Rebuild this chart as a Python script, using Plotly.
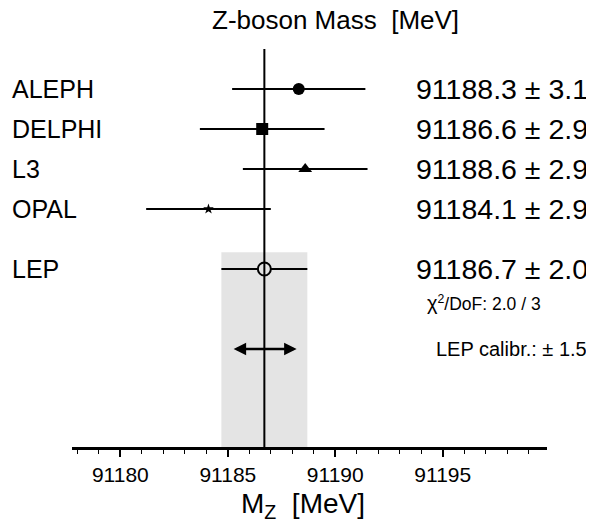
import plotly.graph_objects as go

# ---- data ----
experiments = ["ALEPH", "DELPHI", "L3", "OPAL"]
mz_values = [91188.3, 91186.6, 91188.6, 91184.1]
mz_errors = [3.1, 2.9, 2.9, 2.9]
row_pos = [5, 4, 3, 2]
marker_symbols = ["circle", "square", "triangle-up", "star"]
marker_sizes = [12, 12, 12, 8]

lep_label = "LEP"
lep_value = 91186.7
lep_error = 2.0
lep_pos = 0.5
chi2_text = "<span style='font-size:20px'>χ</span><sup>2</sup>/DoF: 2.0 / 3"
calib_error = 1.5
calib_pos = -1.5

x_ticks = [91180, 91185, 91190, 91195]
x_range = [91177.75, 91199.85]
y_range = [-3.95, 6.0]

FONT = "Liberation Sans, Arial, Helvetica, sans-serif"
BAND = "#e4e4e4"

fig = go.Figure()

for name, v, e, p, sym, sz in zip(experiments, mz_values, mz_errors, row_pos,
                                  marker_symbols, marker_sizes):
    fig.add_trace(go.Scatter(
        x=[v], y=[p], mode="markers", name=name,
        marker=dict(symbol=sym, size=sz, color="black", line=dict(width=0)),
        error_x=dict(type="data", array=[e], symmetric=True, color="black",
                     thickness=2, width=0),
        showlegend=False, cliponaxis=False,
    ))

fig.add_trace(go.Scatter(
    x=[lep_value], y=[lep_pos], mode="markers", name=lep_label,
    marker=dict(symbol="circle", size=13, color=BAND,
                line=dict(width=2, color="black")),
    error_x=dict(type="data", array=[lep_error], symmetric=True, color="black",
                 thickness=2, width=0),
    showlegend=False, cliponaxis=False,
))

# band of LEP average uncertainty
fig.add_shape(type="rect", xref="x", yref="y",
              x0=lep_value - lep_error, x1=lep_value + lep_error,
              y0=y_range[0], y1=lep_pos + 0.42,
              fillcolor=BAND, line=dict(width=0), layer="below")
# vertical line at LEP average
fig.add_shape(type="line", xref="x", yref="paper",
              x0=lep_value, x1=lep_value, y0=0, y1=1,
              line=dict(color="black", width=2), layer="above")

# LEP calibration arrow
fig.add_annotation(x=lep_value + calib_error, y=calib_pos,
                   ax=lep_value - calib_error, ay=calib_pos,
                   xref="x", yref="y", axref="x", ayref="y",
                   text="", showarrow=True, arrowside="end+start",
                   arrowhead=2, arrowsize=1, arrowwidth=2.5,
                   arrowcolor="black", standoff=0, startstandoff=0)

# left labels
label_x = -0.1305
value_x = 0.7200
for name, p in zip(experiments + [lep_label], row_pos + [lep_pos]):
    fig.add_annotation(x=label_x, y=p, xref="paper", yref="y", text=name,
                       showarrow=False, xanchor="left", yanchor="middle",
                       font=dict(size=25, color="black", family=FONT))
for v, e, p in zip(mz_values + [lep_value], mz_errors + [lep_error],
                   row_pos + [lep_pos]):
    fig.add_annotation(x=value_x, y=p, xref="paper", yref="y",
                       text=f"{v:.1f} ± {e:.1f}",
                       showarrow=False, xanchor="left", yanchor="middle",
                       font=dict(size=28.5, color="black", family=FONT))

fig.add_annotation(x=0.7432, y=lep_pos - 0.85, xref="paper", yref="y",
                   text=chi2_text, showarrow=False, xanchor="left",
                   yanchor="middle",
                   font=dict(size=17.5, color="black", family=FONT))
fig.add_annotation(x=0.7621, y=calib_pos, xref="paper", yref="y",
                   text=f"LEP calibr.: ± {calib_error:.1f}", showarrow=False,
                   xanchor="left", yanchor="middle",
                   font=dict(size=20, color="black", family=FONT))

# title and axis title
fig.add_annotation(x=0.5537, y=1.073, xref="paper", yref="paper",
                   text="Z-boson Mass\u00a0\u00a0[MeV]", showarrow=False,
                   xanchor="center", yanchor="middle",
                   font=dict(size=26, color="black", family=FONT))
fig.add_annotation(x=0.486, y=-0.146, xref="paper", yref="paper",
                   text="M<sub>Z</sub>\u00a0\u00a0[MeV]", showarrow=False,
                   xanchor="center", yanchor="middle",
                   font=dict(size=28, color="black", family=FONT))

fig.update_xaxes(range=x_range, tickvals=x_ticks,
                 ticktext=[str(t) for t in x_ticks],
                 showline=True, linecolor="black", linewidth=2.5,
                 ticks="outside", ticklen=7, tickwidth=1.5, tickcolor="black",
                 minor=dict(dtick=1, tick0=x_ticks[0], ticks="outside",
                            ticklen=4, tickwidth=1, tickcolor="black"),
                 showgrid=False, zeroline=False,
                 tickfont=dict(size=21, color="black", family=FONT))
fig.update_yaxes(range=y_range, visible=False, showgrid=False)

fig.update_layout(width=586, height=521,
                  margin=dict(l=64, r=47, t=41, b=82),
                  paper_bgcolor="white", plot_bgcolor="white",
                  font=dict(family=FONT, color="black"))

fig.write_html("out.html")
